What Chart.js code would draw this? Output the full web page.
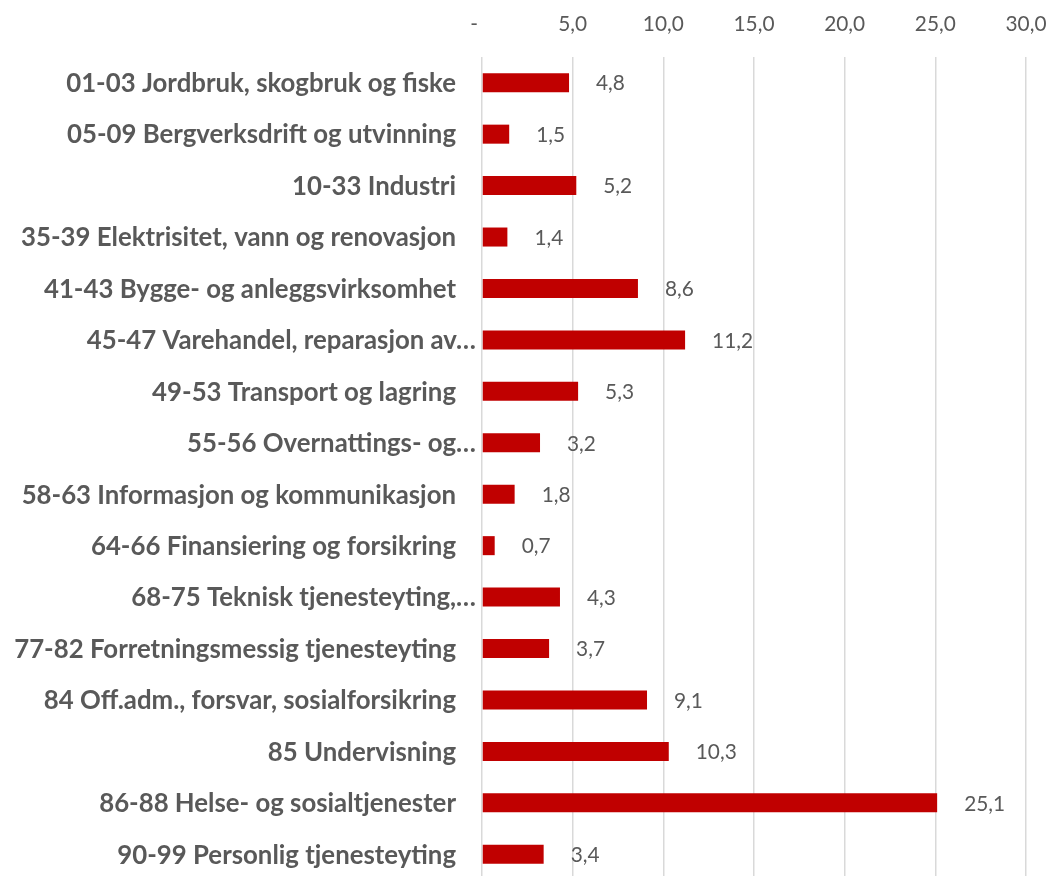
<!DOCTYPE html>
<html><head><meta charset="utf-8">
<script src="https://cdn.jsdelivr.net/npm/chart.js@4.4.1/dist/chart.umd.min.js"></script>
<style>html,body{margin:0;padding:0;overflow:hidden;background:#fff}</style>
</head><body>
<canvas id="c" width="1054" height="880"></canvas>
<script>
const categories = [
  '01-03 Jordbruk, skogbruk og fiske',
  '05-09 Bergverksdrift og utvinning',
  '10-33 Industri',
  '35-39 Elektrisitet, vann og renovasjon',
  '41-43 Bygge- og anleggsvirksomhet',
  '45-47 Varehandel, reparasjon av\u2026',
  '49-53 Transport og lagring',
  '55-56 Overnattings- og\u2026',
  '58-63 Informasjon og kommunikasjon',
  '64-66 Finansiering og forsikring',
  '68-75 Teknisk tjenesteyting,\u2026',
  '77-82 Forretningsmessig tjenesteyting',
  '84 Off.adm., forsvar, sosialforsikring',
  '85 Undervisning',
  '86-88 Helse- og sosialtjenester',
  '90-99 Personlig tjenesteyting'
];
const values = [4.8, 1.5, 5.2, 1.4, 8.6, 11.2, 5.3, 3.2, 1.8, 0.7, 4.3, 3.7, 9.1, 10.3, 25.1, 3.4];
const tickValues = [0, 5, 10, 15, 20, 25, 30];
const tickLabels = ['-   ', '5,0', '10,0', '15,0', '20,0', '25,0', '30,0'];

const FAMILY = 'Lato, "Open Sans", sans-serif';
const TEXT = '#595959';
function fitSize(text, weight, target) {
  const c = document.createElement('canvas').getContext('2d');
  c.font = weight + ' 100px ' + FAMILY;
  return 100 * target / c.measureText(text).width;
}
const catSize = fitSize(categories[0], 'bold', 390);
const numSize = fitSize('30,0', 'normal', 41);
const fmt = v => v.toFixed(1).replace('.', ',');

const catLabelPlugin = {
  id: 'catLabels',
  afterDraw(chart) {
    const ctx = chart.ctx, y = chart.scales.y;
    ctx.save();
    ctx.font = 'bold ' + catSize + 'px ' + FAMILY;
    ctx.fillStyle = TEXT;
    ctx.textAlign = 'right';
    ctx.textBaseline = 'middle';
    categories.forEach((c, i) => {
      const x = c.endsWith('\u2026') ? 476 : 456;
      ctx.fillText(c, x, y.getPixelForValue(i) + 1);
    });
    ctx.restore();
  }
};
const valueLabelPlugin = {
  id: 'valueLabels',
  afterDatasetsDraw(chart) {
    const ctx = chart.ctx;
    const meta = chart.getDatasetMeta(0);
    ctx.save();
    ctx.font = numSize + 'px ' + FAMILY;
    ctx.fillStyle = TEXT;
    ctx.textAlign = 'left';
    ctx.textBaseline = 'middle';
    meta.data.forEach((bar, i) => {
      ctx.fillText(fmt(values[i]), bar.x + 27, bar.y + 1);
    });
    ctx.restore();
  }
};

new Chart(document.getElementById('c'), {
  type: 'bar',
  data: {
    labels: categories,
    datasets: [{
      data: values,
      backgroundColor: '#C00000',
      borderWidth: 0,
      barPercentage: 0.37,
      categoryPercentage: 1
    }]
  },
  options: {
    indexAxis: 'y',
    responsive: false,
    animation: false,
    devicePixelRatio: 1,
    layout: { padding: { left: 0, right: 28, top: 0, bottom: 0 } },
    plugins: { legend: { display: false }, tooltip: { enabled: false } },
    scales: {
      x: {
        position: 'top',
        min: 0, max: 30,
        afterBuildTicks: s => { s.ticks = tickValues.map(v => ({ value: v })); },
        afterFit: s => { s.height = 57; s.paddingLeft = 0; s.paddingRight = 0; },
        grid: { color: '#D9D9D9', lineWidth: 1.5, drawTicks: false },
        border: { display: false },
        ticks: {
          padding: 20,
          color: TEXT,
          font: { family: FAMILY, size: numSize },
          callback: v => tickLabels[tickValues.indexOf(v)]
        }
      },
      y: {
        afterFit: s => { s.width = 482; s.paddingTop = 0; s.paddingBottom = 0; },
        grid: { display: false },
        border: { display: false },
        ticks: { display: false }
      }
    }
  },
  plugins: [catLabelPlugin, valueLabelPlugin]
});
</script>
</body></html>
